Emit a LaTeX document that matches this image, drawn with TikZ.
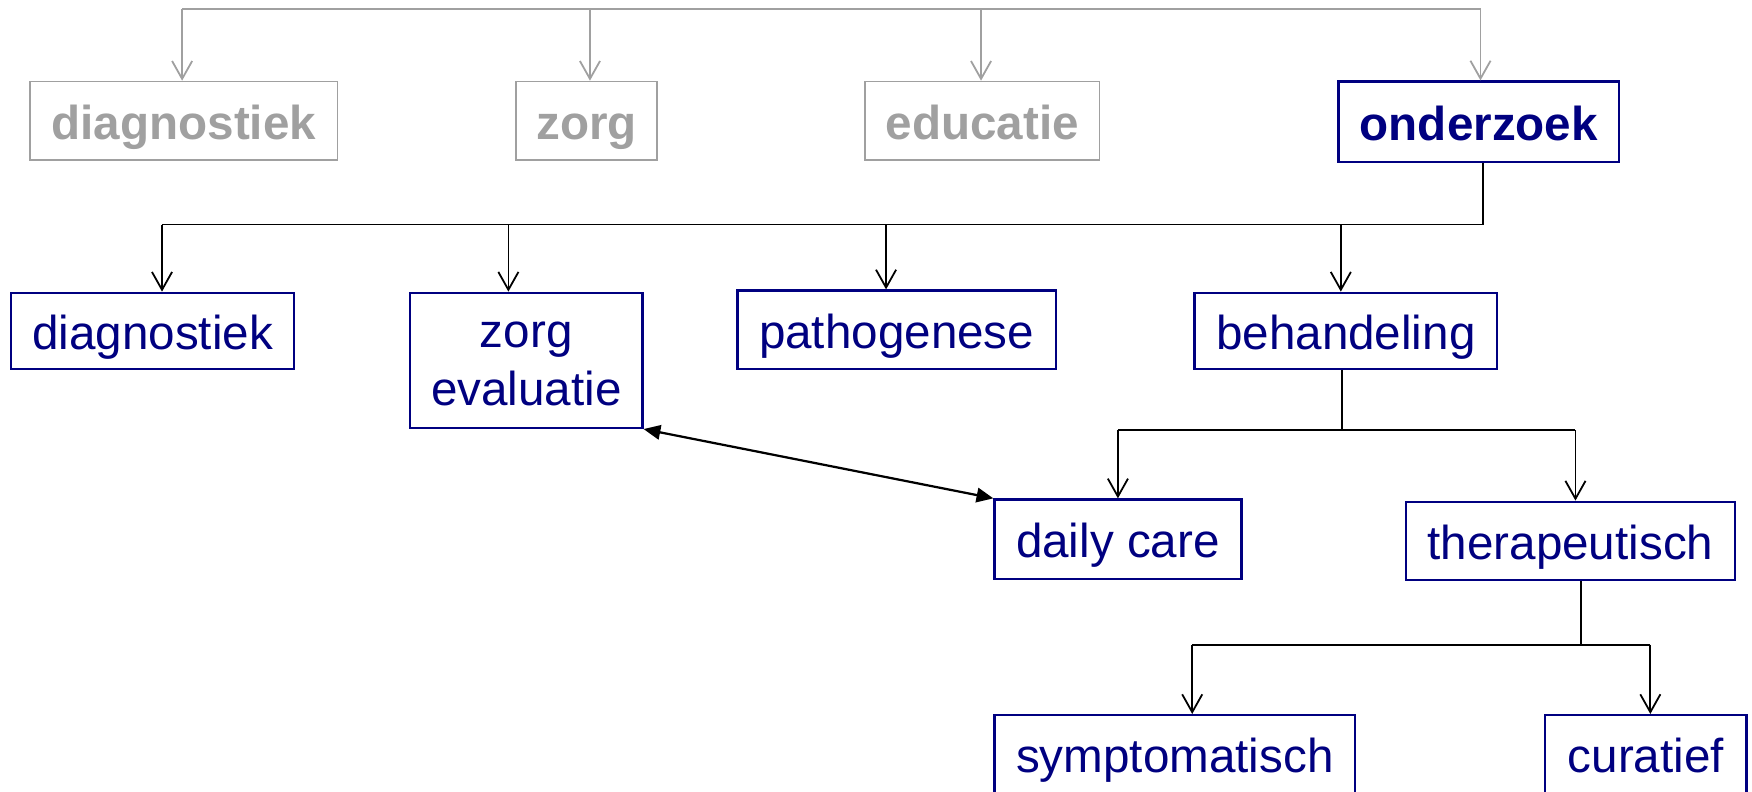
\documentclass[tikz,border=0pt]{standalone}
\usepackage{fontspec}
\setmainfont{Liberation Sans}
\usetikzlibrary{arrows.meta}
\definecolor{boxblue}{RGB}{0,0,128}
\definecolor{boxgray}{RGB}{160,160,160}
\newcommand{\boxfont}{\fontsize{21.3}{25.7}\selectfont}

\begin{document}
\begin{tikzpicture}[x=0.5pt, y=-0.5pt,
    box/.style={draw=boxblue, text=boxblue, line width=1pt, inner sep=0pt, align=center, font=\boxfont,
        text height=18.5pt, text depth=2pt},
    graybox/.style={box, draw=boxgray, text=boxgray, line width=0.8pt, font=\boxfont\bfseries},
    wire/.style={line width=0.8pt},
    link/.style={wire, -{Straight Barb[length=8pt,width=9pt]}},
    graywire/.style={wire, draw=boxgray},
    graylink/.style={link, draw=boxgray}]
    \useasboundingbox (0,0) rectangle (1568,708);

    % Top row
    \node[graybox, minimum width=137.5pt, minimum height=35pt] (gdiag) at (164.5,108) {diagnostiek};
    \node[graybox, minimum width=63pt, minimum height=35pt] (gzorg) at (525,108) {zorg};
    \node[graybox, minimum width=105pt, minimum height=35pt] (gedu) at (879,108) {educatie};
    \node[box, font=\boxfont\bfseries, minimum width=125.5pt, minimum height=36pt] (onderzoek) at (1323.5,109) {onderzoek};

    % Feed into the top row
    \coordinate (top) at (0,8);
    \foreach \n/\s in {gdiag/-0.75, gzorg/1.5, gedu/-0.5, onderzoek/0.75}{
        \coordinate (\n-in) at ([xshift=\s pt]\n.north);
        \draw[graylink] (\n-in |- top) -- (\n-in);
    }
    \draw[graywire] (gdiag-in |- top) -- (onderzoek-in |- top);

    % Second row
    \node[box, minimum width=126.5pt, minimum height=34pt] (diag) at (136.5,296) {diagnostiek};
    \node[box, text height=42pt, minimum width=104pt, minimum height=60.5pt] (zorgev) at (471,322.5) {zorg\\evaluatie};
    \node[box, minimum width=142.5pt, minimum height=35pt] (patho) at (802.5,295) {pathogenese};
    \node[box, minimum width=135.5pt, minimum height=34pt] (behand) at (1204.5,296) {behandeling};

    % onderzoek splits
    \coordinate (bus) at (0,201);
    \coordinate (onderzoek-out) at ([xshift=1.75pt]onderzoek.south);
    \foreach \n/\s in {diag/4.25, zorgev/-8, patho/-4.75, behand/-2.25}{
        \coordinate (\n-in) at ([xshift=\s pt]\n.north);
        \draw[link] (\n-in |- bus) -- (\n-in);
    }
    \draw[wire] (onderzoek-out) -- (onderzoek-out |- bus) -- (diag-in |- bus);

    % Third row
    \node[box, minimum width=110.5pt, minimum height=35.5pt] (daily) at (1000.5,482.5) {daily care};
    \node[box, minimum width=147.5pt, minimum height=35pt] (thera) at (1405.5,484) {therapeutisch};

    % behandeling splits
    \coordinate (bus2) at (0,385);
    \coordinate (behand-out) at ([xshift=-1.75pt]behand.south);
    \foreach \n/\s in {daily/0, thera/2.25}{
        \coordinate (\n-in) at ([xshift=\s pt]\n.north);
        \draw[link] (\n-in |- bus2) -- (\n-in);
    }
    \draw[wire] (behand-out) -- (behand-out |- bus2);
    \draw[wire] (daily-in |- bus2) -- (thera-in |- bus2);

    % Fourth row
    \node[box, minimum width=161.5pt, minimum height=35pt] (sympt) at (1051.5,675) {symptomatisch};
    \node[box, minimum width=90pt, minimum height=35pt] (curatief) at (1473,675) {curatief};

    % therapeutisch splits
    \coordinate (bus3) at (0,577);
    \coordinate (thera-out) at ([xshift=4.75pt]thera.south);
    \foreach \n/\s in {sympt/7.75, curatief/2}{
        \coordinate (\n-in) at ([xshift=\s pt]\n.north);
        \draw[link] (\n-in |- bus3) -- (\n-in);
    }
    \draw[wire] (thera-out) -- (thera-out |- bus3);
    \draw[wire] (sympt-in |- bus3) -- (curatief-in |- bus3);

    % Evaluation link
    \draw[line width=1pt, {Triangle[length=7.5pt,width=6.5pt]}-{Triangle[length=7.5pt,width=6.5pt]}] (zorgev.south east) -- (daily.north west);

\end{tikzpicture}
\end{document}
